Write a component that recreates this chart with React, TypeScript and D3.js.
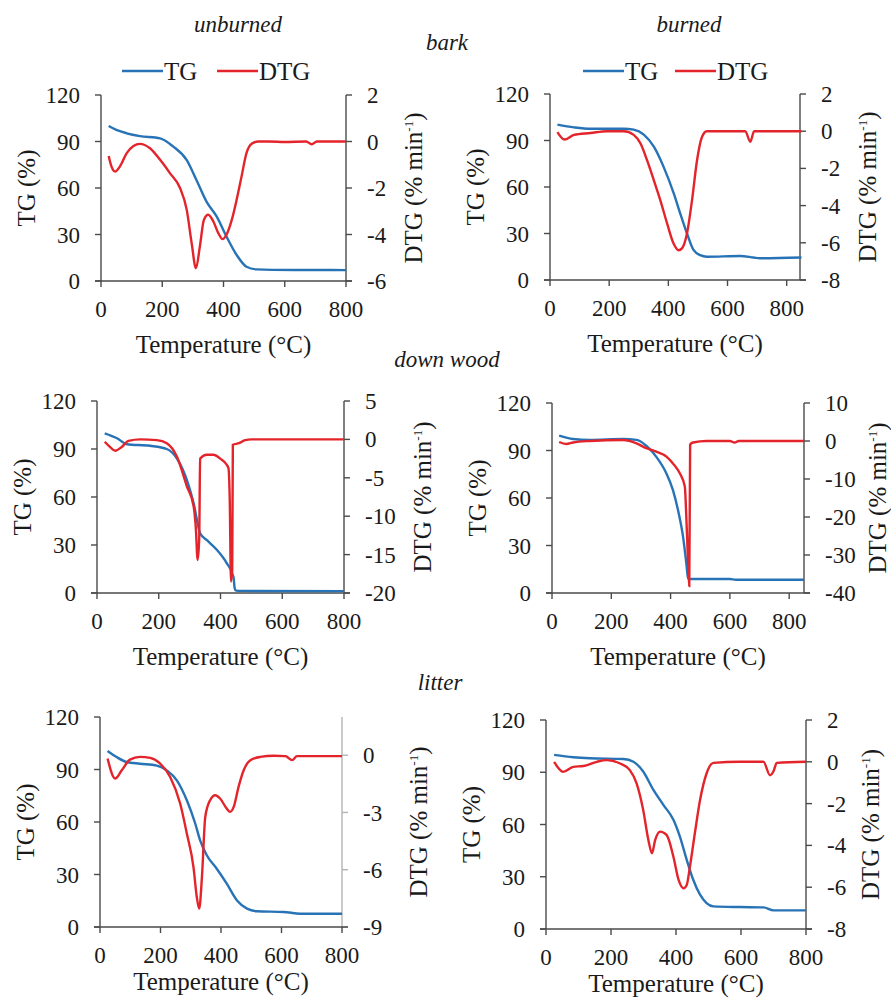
import React from "react";
import * as d3 from "d3";

type Pt = [number, number];

const FONT = "Liberation Serif";
const BLUE = "#2873b6";
const RED = "#e3242b";
const AXIS = "#4a4a4a";
const INK = "#1a1a1a";

// axis ticks
const tempTicks = [0, 200, 400, 600, 800];
const tgTicks = [0, 30, 60, 90, 120];

const colTitles = ["unburned", "burned"];
const rowTitles = ["bark", "down wood", "litter"];
const seriesNames = ["TG", "DTG"];

// bark, unburned  [temperature °C, value]
const barkUnburnedTG: Pt[] = [[25, 100], [50, 97.5], [84, 95.3], [127, 93.5], [193, 92], [236, 86.7], [280, 78], [312, 65], [345, 51], [378, 41.5], [410, 28.6], [443, 16.8], [475, 9.2], [508, 7.5], [560, 7.2], [700, 7.1], [800, 7.0]];
const barkUnburnedDTG: Pt[] = [[25, -0.62], [35, -1.1], [46, -1.29], [62, -1.07], [84, -0.5], [106, -0.19], [127, -0.1], [160, -0.29], [193, -0.79], [225, -1.36], [258, -2.0], [280, -2.94], [296, -4.37], [310, -5.45], [323, -4.5], [336, -3.37], [350, -3.15], [367, -3.44], [383, -3.94], [397, -4.2], [410, -4.0], [427, -3.37], [443, -2.5], [459, -1.5], [475, -0.5], [492, -0.1], [514, 0], [550, 0], [600, -0.02], [670, 0], [688, -0.12], [705, 0], [800, 0]];

// bark, burned
const barkBurnedTG: Pt[] = [[25, 100.2], [81, 98.5], [137, 97.6], [250, 97.6], [283, 97], [317, 93.8], [351, 86], [384, 73], [418, 56], [440, 43], [463, 30], [485, 19.4], [508, 16], [530, 15], [643, 15.5], [688, 14.5], [710, 14], [850, 14.5]];
const barkBurnedDTG: Pt[] = [[25, -0.05], [49, -0.45], [81, -0.2], [137, -0.1], [193, 0], [250, 0], [283, -0.2], [306, -0.66], [328, -1.56], [351, -2.64], [373, -3.72], [396, -4.97], [418, -6.05], [435, -6.4], [446, -6.3], [463, -5.5], [480, -3.72], [497, -1.56], [514, -0.3], [530, 0], [660, 0], [677, -0.57], [690, 0], [850, 0]];

// down wood, unburned
const woodUnburnedTG: Pt[] = [[25, 99.8], [65, 96.7], [97, 93], [172, 92], [226, 90], [259, 84], [291, 70.7], [313, 56], [334, 37.4], [356, 33], [388, 27], [420, 18.7], [442, 10], [446, 3], [450, 1.5], [470, 1.3], [800, 1.2]];
const woodUnburnedDTG: Pt[] = [[25, -0.3], [40, -0.9], [59, -1.47], [81, -0.95], [102, -0.2], [140, 0], [194, -0.1], [226, -0.5], [259, -2.25], [291, -6.1], [313, -8.7], [320, -11.5], [326, -15.7], [331, -13], [334, -2.5], [356, -2.0], [377, -2.0], [399, -2.5], [420, -3.3], [426, -3.8], [430, -8], [434, -18.5], [438, -17], [440, -0.7], [460, -0.5], [480, -0.1], [500, 0], [800, 0]];

// down wood, burned
const woodBurnedTG: Pt[] = [[24, 99.4], [71, 97.3], [127, 96.7], [240, 97.3], [285, 96.7], [318, 93], [352, 86], [386, 75.5], [408, 65], [425, 52.4], [442, 35.6], [453, 18.9], [459, 9.4], [465, 8.8], [600, 8.8], [620, 8.4], [850, 8.4]];
const woodBurnedDTG: Pt[] = [[24, -0.26], [48, -0.8], [71, -0.4], [127, 0], [240, 0.26], [285, -0.6], [318, -1.9], [352, -2.8], [386, -4.1], [408, -5.9], [431, -8.5], [448, -12], [453, -19.9], [459, -32], [463, -38.2], [466, -0.9], [476, -0.4], [521, 0], [600, 0], [616, -0.4], [630, 0], [850, 0]];

// litter, unburned
const litterUnburnedTG: Pt[] = [[25, 100.6], [55, 97.1], [88, 94.3], [132, 93.3], [188, 92.2], [221, 89.5], [254, 83.8], [287, 72.4], [315, 59], [331, 49.5], [353, 41], [386, 33.3], [419, 24.8], [453, 15.2], [486, 10.5], [519, 9], [607, 8.6], [662, 7.6], [800, 7.6]];
const litterUnburnedDTG: Pt[] = [[25, -0.17], [50, -1.22], [72, -0.79], [99, -0.23], [132, -0.09], [166, -0.14], [199, -0.44], [232, -1.14], [265, -2.53], [287, -4.1], [309, -5.86], [320, -7.43], [328, -8.04], [337, -6.38], [348, -3.23], [364, -2.36], [381, -2.1], [397, -2.27], [419, -2.8], [430, -2.97], [442, -2.71], [458, -1.66], [475, -0.79], [497, -0.26], [530, -0.09], [574, -0.03], [613, -0.05], [635, -0.26], [651, -0.05], [800, -0.05]];

// litter, burned
const litterBurnedTG: Pt[] = [[25, 100], [84, 98.6], [135, 98], [238, 97.6], [269, 96], [299, 90.4], [330, 80], [361, 71.3], [392, 62.7], [412, 53], [433, 39.7], [453, 28.3], [474, 19.7], [494, 14.9], [515, 13], [597, 12.6], [669, 12.4], [700, 10.7], [800, 10.7]];
const litterBurnedDTG: Pt[] = [[25, 0], [53, -0.48], [84, -0.24], [115, -0.2], [156, 0], [187, 0.08], [228, -0.08], [258, -0.4], [279, -1.04], [299, -2.3], [315, -3.74], [326, -4.38], [336, -3.74], [351, -3.34], [371, -3.5], [392, -4.54], [408, -5.65], [423, -6.05], [433, -5.89], [443, -5.0], [458, -3.42], [474, -1.83], [494, -0.56], [515, -0.05], [597, 0], [669, 0], [689, -0.64], [700, -0.45], [710, -0.05], [800, 0]];

// panel layout (pixel box of each plot)
const panels = [
  { tg: barkUnburnedTG, dtg: barkUnburnedDTG, x0: 101, x1: 346, y0: 95, y1: 281, tMax: 800, dDom: [-6, 2], dTicks: [-6, -4, -2, 0, 2], dOff: 67, xOff: 72, legend: [122, 217], faint: false },
  { tg: barkBurnedTG, dtg: barkBurnedDTG, x0: 550, x1: 800, y0: 94, y1: 280, tMax: 845, dDom: [-8, 2], dTicks: [-8, -6, -4, -2, 0, 2], dOff: 67, xOff: 72, legend: [583, 675], faint: false },
  { tg: woodUnburnedTG, dtg: woodUnburnedDTG, x0: 97, x1: 344, y0: 401, y1: 593, tMax: 800, dDom: [-20, 5], dTicks: [-20, -15, -10, -5, 0, 5], dOff: 78, xOff: 72, legend: null, faint: false },
  { tg: woodBurnedTG, dtg: woodBurnedDTG, x0: 552, x1: 804, y0: 403, y1: 593, tMax: 850, dDom: [-40, 10], dTicks: [-40, -30, -20, -10, 0, 10], dOff: 73, xOff: 72, legend: null, faint: false },
  { tg: litterUnburnedTG, dtg: litterUnburnedDTG, x0: 100, x1: 342, y0: 717, y1: 927, tMax: 800, dDom: [-9, 2], dTicks: [-9, -6, -3, 0], dOff: 76, xOff: 63, legend: null, faint: true },
  { tg: litterBurnedTG, dtg: litterBurnedDTG, x0: 546, x1: 806, y0: 720, y1: 929, tMax: 800, dDom: [-8, 2], dTicks: [-8, -6, -4, -2, 0, 2], dOff: 64, xOff: 63, legend: null, faint: false },
];

const txt = (size: number, extra: any = {}) => ({ fontFamily: FONT, fontSize: size, fill: INK, ...extra });

function Panel({ p }: { p: (typeof panels)[number] }) {
  const x = d3.scaleLinear().domain([0, p.tMax]).range([p.x0, p.x1]);
  const yTG = d3.scaleLinear().domain([0, 120]).range([p.y1, p.y0]);
  const yD = d3.scaleLinear().domain(p.dDom).range([p.y1, p.y0]);
  const tgLine = d3.line<Pt>().x(d => x(d[0])).y(d => yTG(d[1])).curve(d3.curveMonotoneX);
  const dLine = d3.line<Pt>().x(d => x(d[0])).y(d => yD(d[1])).curve(d3.curveMonotoneX);
  const midY = (p.y0 + p.y1) / 2;
  const rightStroke = p.faint ? "#b4b4b4" : AXIS;

  return (
    <g>
      {/* left TG axis */}
      <line x1={p.x0} x2={p.x0} y1={p.y0} y2={p.y1} stroke={AXIS} strokeWidth={1.4} />
      {tgTicks.map(v => (
        <g key={"l" + v}>
          <line x1={p.x0 - 6} x2={p.x0} y1={yTG(v)} y2={yTG(v)} stroke={AXIS} strokeWidth={1.4} />
          <text x={p.x0 - 21} y={yTG(v)} dy="0.35em" textAnchor="end" style={txt(23)}>{String(v)}</text>
        </g>
      ))}
      {/* right DTG axis */}
      <line x1={p.x1} x2={p.x1} y1={p.y0} y2={p.y1} stroke={rightStroke} strokeWidth={1.4} />
      {p.dTicks.map(v => (
        <g key={"r" + v}>
          <line x1={p.x1} x2={p.x1 + 6} y1={yD(v)} y2={yD(v)} stroke={rightStroke} strokeWidth={1.4} />
          <text x={p.x1 + 21} y={yD(v)} dy="0.35em" textAnchor="start" style={txt(23)}>{String(v)}</text>
        </g>
      ))}
      {/* temperature axis */}
      <line x1={p.x0 - 6} x2={p.x1 + 6} y1={p.y1} y2={p.y1} stroke={AXIS} strokeWidth={1.4} />
      {tempTicks.map(v => (
        <g key={"b" + v}>
          <line x1={x(v)} x2={x(v)} y1={p.y1} y2={p.y1 + 6} stroke={AXIS} strokeWidth={1.4} />
          <text x={x(v)} y={p.y1 + 36} textAnchor="middle" style={txt(23)}>{String(v)}</text>
        </g>
      ))}

      <path d={tgLine(p.tg) || ""} fill="none" stroke={BLUE} strokeWidth={2.4} />
      <path d={dLine(p.dtg) || ""} fill="none" stroke={RED} strokeWidth={2.4} />

      <text transform={`translate(${p.x0 - 75},${midY}) rotate(-90)`} dy="0.35em" textAnchor="middle" style={txt(25)}>
        TG (%)
      </text>
      <text transform={`translate(${p.x1 + p.dOff},${midY}) rotate(-90)`} dy="0.35em" textAnchor="middle" style={txt(25)}>
        <tspan>DTG (% min</tspan>
        <tspan dy={-9} style={{ fontSize: 13 }}>-1</tspan>
        <tspan dy={9}>)</tspan>
      </text>
      <text x={(p.x0 + p.x1) / 2} y={p.y1 + p.xOff} textAnchor="middle" style={txt(25)}>
        Temperature (°C)
      </text>

      {p.legend &&
        p.legend.map((lx, i) => (
          <g key={"lg" + i}>
            <line x1={lx} x2={lx + 41} y1={71} y2={71} stroke={i === 0 ? BLUE : RED} strokeWidth={2.4} />
            <text x={lx + 42} y={71} dy="0.35em" style={txt(25)}>{seriesNames[i]}</text>
          </g>
        ))}
    </g>
  );
}

export default function App() {
  const italic = txt(23, { fontStyle: "italic" });
  return (
    <svg width={891} height={998} style={{ position: "absolute", left: 0, top: 0, background: "#fff" }}>
      <text x={238} y={32} textAnchor="middle" style={italic}>{colTitles[0]}</text>
      <text x={689} y={32} textAnchor="middle" style={italic}>{colTitles[1]}</text>
      <text x={447} y={50} textAnchor="middle" style={italic}>{rowTitles[0]}</text>
      <text x={447} y={367} textAnchor="middle" style={italic}>{rowTitles[1]}</text>
      <text x={440} y={690} textAnchor="middle" style={italic}>{rowTitles[2]}</text>
      {panels.map((p, i) => (
        <Panel key={i} p={p} />
      ))}
    </svg>
  );
}
